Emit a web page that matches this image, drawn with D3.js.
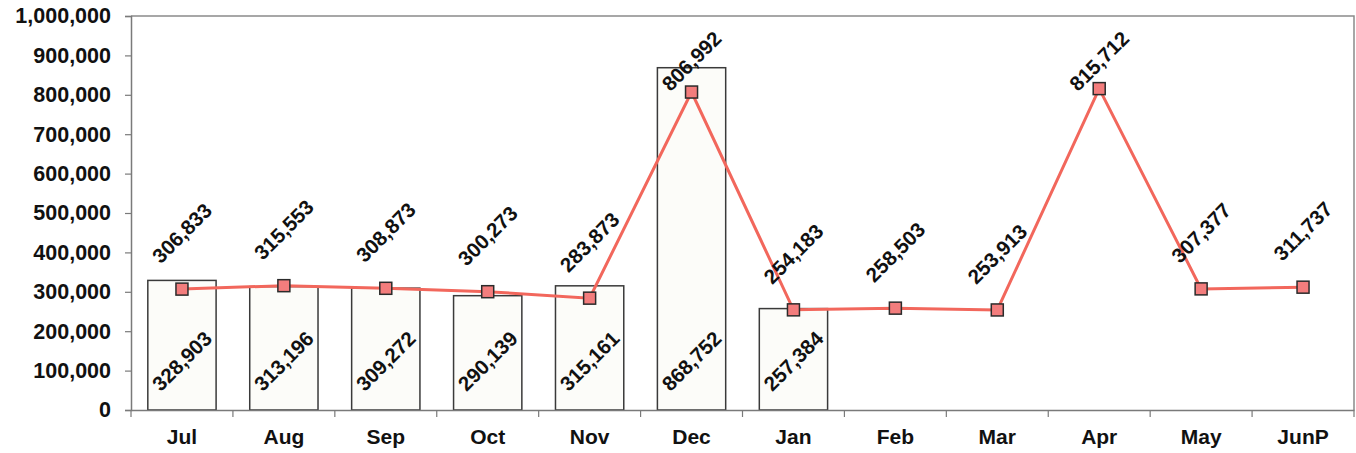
<!DOCTYPE html>
<html>
<head>
<meta charset="utf-8">
<script src="https://cdn.jsdelivr.net/npm/d3@7"></script>
<style>
  html, body { margin: 0; padding: 0; background: #ffffff; }
  svg { display: block; }
</style>
</head>
<body>
<div id="chart"></div>
<script>
// Monthly volume: bars (first seven months) with a line series over all months

const months = ["Jul", "Aug", "Sep", "Oct", "Nov", "Dec", "Jan", "Feb", "Mar", "Apr", "May", "JunP"];
const barValues = [328903, 313196, 309272, 290139, 315161, 868752, 257384];
const lineValues = [306833, 315553, 308873, 300273, 283873, 806992, 254183, 258503, 253913, 815712, 307377, 311737];
const yTicks = [0, 100000, 200000, 300000, 400000, 500000, 600000, 700000, 800000, 900000, 1000000];

function drawChart() {
  const width = 1356;
  const height = 453;
  const margin = { top: 16, right: 2, bottom: 43, left: 131 };
  const fontMain = '"Liberation Sans", Arial, sans-serif';

  const svg = d3.select("#chart")
    .append("svg")
    .attr("width", width)
    .attr("height", height)
    .attr("viewBox", [0, 0, width, height]);

  svg.append("rect")
    .attr("width", width)
    .attr("height", height)
    .attr("fill", "#ffffff");

  const x = d3.scaleBand()
    .domain(months)
    .range([margin.left, width - margin.right])
    .paddingInner(0)
    .paddingOuter(0);

  const y = d3.scaleLinear()
    .domain([0, 1000000])
    .range([height - margin.bottom, margin.top]);

  const fmt = d3.format(",");
  const cx = function(m) { return x(m) + x.bandwidth() / 2; };

  // plot frame (top and right edges)
  svg.append("path")
    .attr("d", "M" + margin.left + "," + y(1000000) +
      "H" + (width - margin.right) + "V" + y(0))
    .attr("fill", "none")
    .attr("stroke", "#8a8a8a")
    .attr("stroke-width", 1.5);

  // bars
  const barData = barValues.map(function(v, i) { return { month: months[i], value: v }; });
  const barW = x.bandwidth() * 0.67;

  svg.append("g")
    .selectAll("rect")
    .data(barData)
    .join("rect")
    .attr("x", function(d) { return cx(d.month) - barW / 2; })
    .attr("y", function(d) { return y(d.value); })
    .attr("width", barW)
    .attr("height", function(d) { return y(0) - y(d.value); })
    .attr("fill", "#fcfcf9")
    .attr("stroke", "#3a3a3a")
    .attr("stroke-width", 1.5);

  // axes
  const yAxis = d3.axisLeft(y)
    .tickValues(yTicks)
    .tickSize(6)
    .tickPadding(14)
    .tickFormat(function(d) { return fmt(d); });

  const gy = svg.append("g")
    .attr("transform", "translate(" + margin.left + ",0)")
    .call(yAxis);

  gy.select(".domain").attr("stroke", "#7a7a7a").attr("stroke-width", 1.5);
  gy.selectAll(".tick line").attr("stroke", "#7a7a7a").attr("stroke-width", 1.2);
  gy.selectAll(".tick text")
    .attr("fill", "#111111")
    .attr("font-size", 21.5)
    .attr("font-weight", "bold")
    .attr("font-family", fontMain);

  const gx = svg.append("g")
    .attr("transform", "translate(0," + y(0) + ")")
    .call(d3.axisBottom(x).tickSize(0).tickPadding(19));

  gx.select(".domain").attr("stroke", "#7a7a7a").attr("stroke-width", 1.5);
  gx.selectAll(".tick text")
    .attr("fill", "#111111")
    .attr("font-size", 21)
    .attr("font-weight", "bold")
    .attr("font-family", fontMain);

  // category separator ticks
  const bounds = months.map(function(m) { return x(m); }).concat([x.range()[1]]);
  gx.append("g")
    .selectAll("line")
    .data(bounds)
    .join("line")
    .attr("x1", function(d) { return d; })
    .attr("x2", function(d) { return d; })
    .attr("y1", 0)
    .attr("y2", 7)
    .attr("stroke", "#7a7a7a")
    .attr("stroke-width", 1.2);

  // line series
  const lineData = lineValues.map(function(v, i) { return { month: months[i], value: v }; });

  const line = d3.line()
    .x(function(d) { return cx(d.month); })
    .y(function(d) { return y(d.value); });

  svg.append("path")
    .datum(lineData)
    .attr("d", line)
    .attr("fill", "none")
    .attr("stroke", "#f2675c")
    .attr("stroke-width", 3);

  const mk = 12;
  svg.append("g")
    .selectAll("rect")
    .data(lineData)
    .join("rect")
    .attr("x", function(d) { return cx(d.month) - mk / 2; })
    .attr("y", function(d) { return y(d.value) - mk / 2; })
    .attr("width", mk)
    .attr("height", mk)
    .attr("fill", "#f37d7d")
    .attr("stroke", "#2b2b2b")
    .attr("stroke-width", 1.5);

  // labels
  function rotatedLabel(g, px, py, text) {
    g.append("text")
      .attr("transform", "translate(" + px + "," + py + ") rotate(-45)")
      .attr("text-anchor", "middle")
      .attr("dy", "0.35em")
      .attr("fill", "#111111")
      .attr("font-size", 20.5)
      .attr("font-weight", "bold")
      .attr("font-family", fontMain)
      .text(text);
  }

  const labels = svg.append("g");
  barData.forEach(function(d) {
    rotatedLabel(labels, cx(d.month), y(0) - 49, fmt(d.value));
  });
  lineData.forEach(function(d) {
    // keep labels of the tall peaks inside the plot frame
    const ly = Math.max(y(d.value) - 56, margin.top + 45);
    rotatedLabel(labels, cx(d.month), ly, fmt(d.value));
  });
}

if (document.readyState === "loading") {
  document.addEventListener("DOMContentLoaded", drawChart);
} else {
  drawChart();
}
</script>
</body>
</html>
